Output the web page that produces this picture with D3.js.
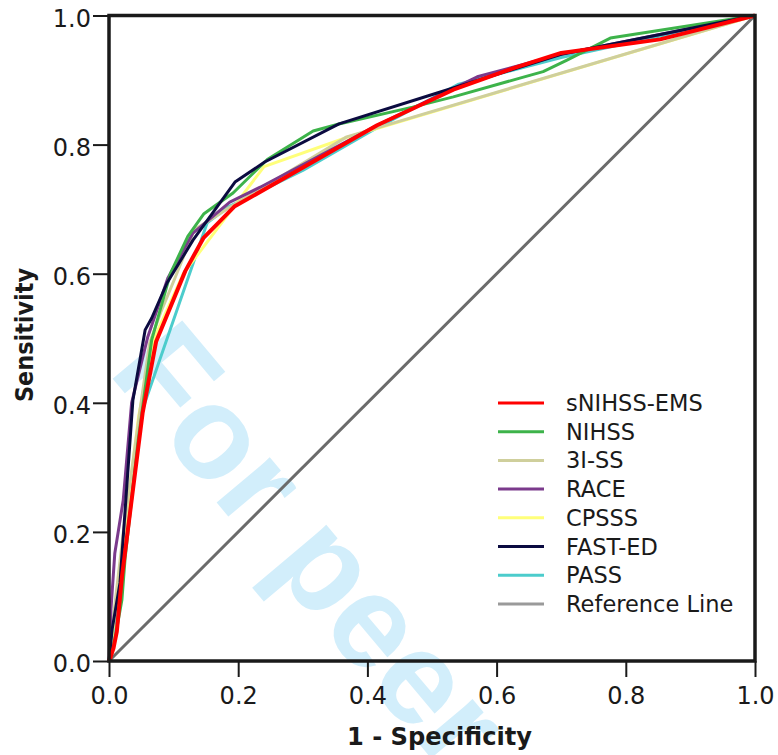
<!DOCTYPE html>
<html>
<head>
<meta charset="utf-8">
<script src="https://cdn.jsdelivr.net/npm/d3@7"></script>
<style>
  html, body { margin: 0; padding: 0; background: #fff; }
  svg { display: block; }
</style>
</head>
<body>
<svg id="chart" width="778" height="755"></svg>
<script>
// ---- data (1 - specificity, sensitivity) ----
const seriesNames = ["sNIHSS-EMS", "NIHSS", "3I-SS", "RACE", "CPSSS", "FAST-ED", "PASS"];
const seriesColors = ["#ff0000", "#3db34a", "#cfcf9c", "#7b3a8c", "#ffff7a", "#0b0b40", "#4ccccc"];

const sNIHSS_EMS = [[0,0],[0.002,0.005],[0.007,0.02],[0.012,0.045],[0.02,0.13],[0.052,0.384],[0.073,0.495],[0.118,0.604],[0.146,0.655],[0.194,0.704],[0.415,0.83],[0.533,0.885],[0.625,0.918],[0.70,0.942],[0.853,0.963],[1,1]];
const NIHSS = [[0,0],[0.009,0.033],[0.02,0.095],[0.025,0.16],[0.045,0.34],[0.066,0.497],[0.095,0.6],[0.122,0.658],[0.147,0.693],[0.168,0.708],[0.192,0.725],[0.245,0.777],[0.316,0.821],[0.356,0.832],[0.47,0.858],[0.533,0.874],[0.636,0.903],[0.672,0.913],[0.709,0.931],[0.776,0.965],[1,1]];
const I3_SS = [[0,0],[0.004,0.043],[0.022,0.198],[0.048,0.389],[0.063,0.493],[0.08,0.54],[0.102,0.593],[0.132,0.668],[0.167,0.69],[0.187,0.703],[0.368,0.812],[1,1]];
const RACE = [[0,0],[0.003,0.08],[0.009,0.167],[0.022,0.249],[0.035,0.4],[0.06,0.502],[0.091,0.593],[0.13,0.663],[0.187,0.711],[0.234,0.734],[0.415,0.83],[0.57,0.905],[0.7,0.94],[1,1]];
const CPSSS = [[0,0],[0.005,0.04],[0.02,0.17],[0.046,0.38],[0.07,0.5],[0.115,0.6],[0.24,0.766],[0.368,0.811],[1,1]];
const FAST_ED = [[0,0],[0.005,0.05],[0.017,0.121],[0.037,0.404],[0.056,0.513],[0.066,0.531],[0.09,0.586],[0.13,0.652],[0.195,0.742],[0.241,0.773],[0.356,0.832],[0.508,0.88],[0.7,0.94],[1,1]];
const PASS = [[0,0],[0.004,0.03],[0.012,0.08],[0.03,0.25],[0.05,0.384],[0.152,0.679],[0.184,0.703],[0.3,0.76],[0.415,0.826],[0.54,0.893],[0.7,0.935],[1,1]];
const referenceLine = [[0,0],[1,1]];

const seriesData = [sNIHSS_EMS, NIHSS, I3_SS, RACE, CPSSS, FAST_ED, PASS];
const drawOrder = [6, 4, 2, 3, 1, 5, 0];

const xTicks = [0, 0.2, 0.4, 0.6, 0.8, 1.0];
const yTicks = [0, 0.2, 0.4, 0.6, 0.8, 1.0];
const xTitle = "1 - Specificity";
const yTitle = "Sensitivity";
const refLabel = "Reference Line";
const watermark = "For peer";

// ---- drawing ----
const svg = d3.select("#chart");
const x = d3.scaleLinear().domain([0, 1]).range([109, 755]);
const y = d3.scaleLinear().domain([0, 1]).range([661, 15.5]);

// watermark (behind everything)
svg.append("text")
  .attr("transform", "translate(107,372) rotate(50)")
  .attr("font-family", "Liberation Sans, Arial, sans-serif")
  .attr("font-weight", "bold")
  .attr("font-size", 132)
  .attr("fill", "#d2eefb")
  .text(watermark);

const line = d3.line().x(d => x(d[0])).y(d => y(d[1]));

// reference diagonal
svg.append("path")
  .datum(referenceLine)
  .attr("d", line)
  .attr("fill", "none")
  .attr("stroke", "#6b6b6b")
  .attr("stroke-width", 3);

// curves
drawOrder.forEach(i => {
  svg.append("path")
    .datum(seriesData[i])
    .attr("d", line)
    .attr("fill", "none")
    .attr("stroke", seriesColors[i])
    .attr("stroke-width", i === 0 ? 4 : 3)
    .attr("stroke-linejoin", "round");
});

// axes
const fmt = d3.format(".1f");
const xAxis = svg.append("g")
  .attr("transform", `translate(0,${y(0)})`)
  .call(d3.axisBottom(x).tickValues(xTicks).tickFormat(fmt).tickSize(16).tickPadding(10));
const yAxis = svg.append("g")
  .attr("transform", `translate(${x(0)},0)`)
  .call(d3.axisLeft(y).tickValues(yTicks).tickFormat(fmt).tickSize(16).tickPadding(2));

[xAxis, yAxis].forEach(g => {
  g.select(".domain").remove();
  g.selectAll(".tick line").attr("stroke", "#1a1a1a").attr("stroke-width", 2);
  g.selectAll(".tick text")
    .attr("font-family", "DejaVu Sans, sans-serif")
    .attr("font-size", 24)
    .attr("fill", "#1a1a1a");
});
yAxis.selectAll(".tick text").attr("dy", "0.45em");

// frame
svg.append("rect")
  .attr("x", x(0)).attr("y", y(1))
  .attr("width", x(1) - x(0)).attr("height", y(0) - y(1))
  .attr("fill", "none")
  .attr("stroke", "#1a1a1a")
  .attr("stroke-width", 3.5);

// axis titles
svg.append("text")
  .attr("x", 439.5).attr("y", 745)
  .attr("text-anchor", "middle")
  .attr("font-family", "DejaVu Sans, sans-serif")
  .attr("font-weight", "bold")
  .attr("font-size", 24)
  .attr("textLength", 185)
  .attr("lengthAdjust", "spacingAndGlyphs")
  .attr("fill", "#1a1a1a")
  .text(xTitle);

svg.append("text")
  .attr("transform", "translate(33,335) rotate(-90)")
  .attr("text-anchor", "middle")
  .attr("font-family", "DejaVu Sans, sans-serif")
  .attr("font-weight", "bold")
  .attr("font-size", 24)
  .attr("textLength", 134)
  .attr("lengthAdjust", "spacingAndGlyphs")
  .attr("fill", "#1a1a1a")
  .text(yTitle);

// legend
const legendItems = seriesNames.map((n, i) => ({ name: n, color: seriesColors[i] }))
  .concat([{ name: refLabel, color: "#9a9a9a" }]);
const leg = svg.append("g");
legendItems.forEach((d, i) => {
  const cy = 403 + i * 28.7;
  leg.append("line")
    .attr("x1", 498).attr("x2", 544)
    .attr("y1", cy).attr("y2", cy)
    .attr("stroke", d.color)
    .attr("stroke-width", 3);
  leg.append("text")
    .attr("x", 566).attr("y", cy + 8)
    .attr("font-family", "DejaVu Sans, sans-serif")
    .attr("font-size", 22.5)
    .attr("fill", "#1a1a1a")
    .text(d.name);
});
</script>
</body>
</html>
